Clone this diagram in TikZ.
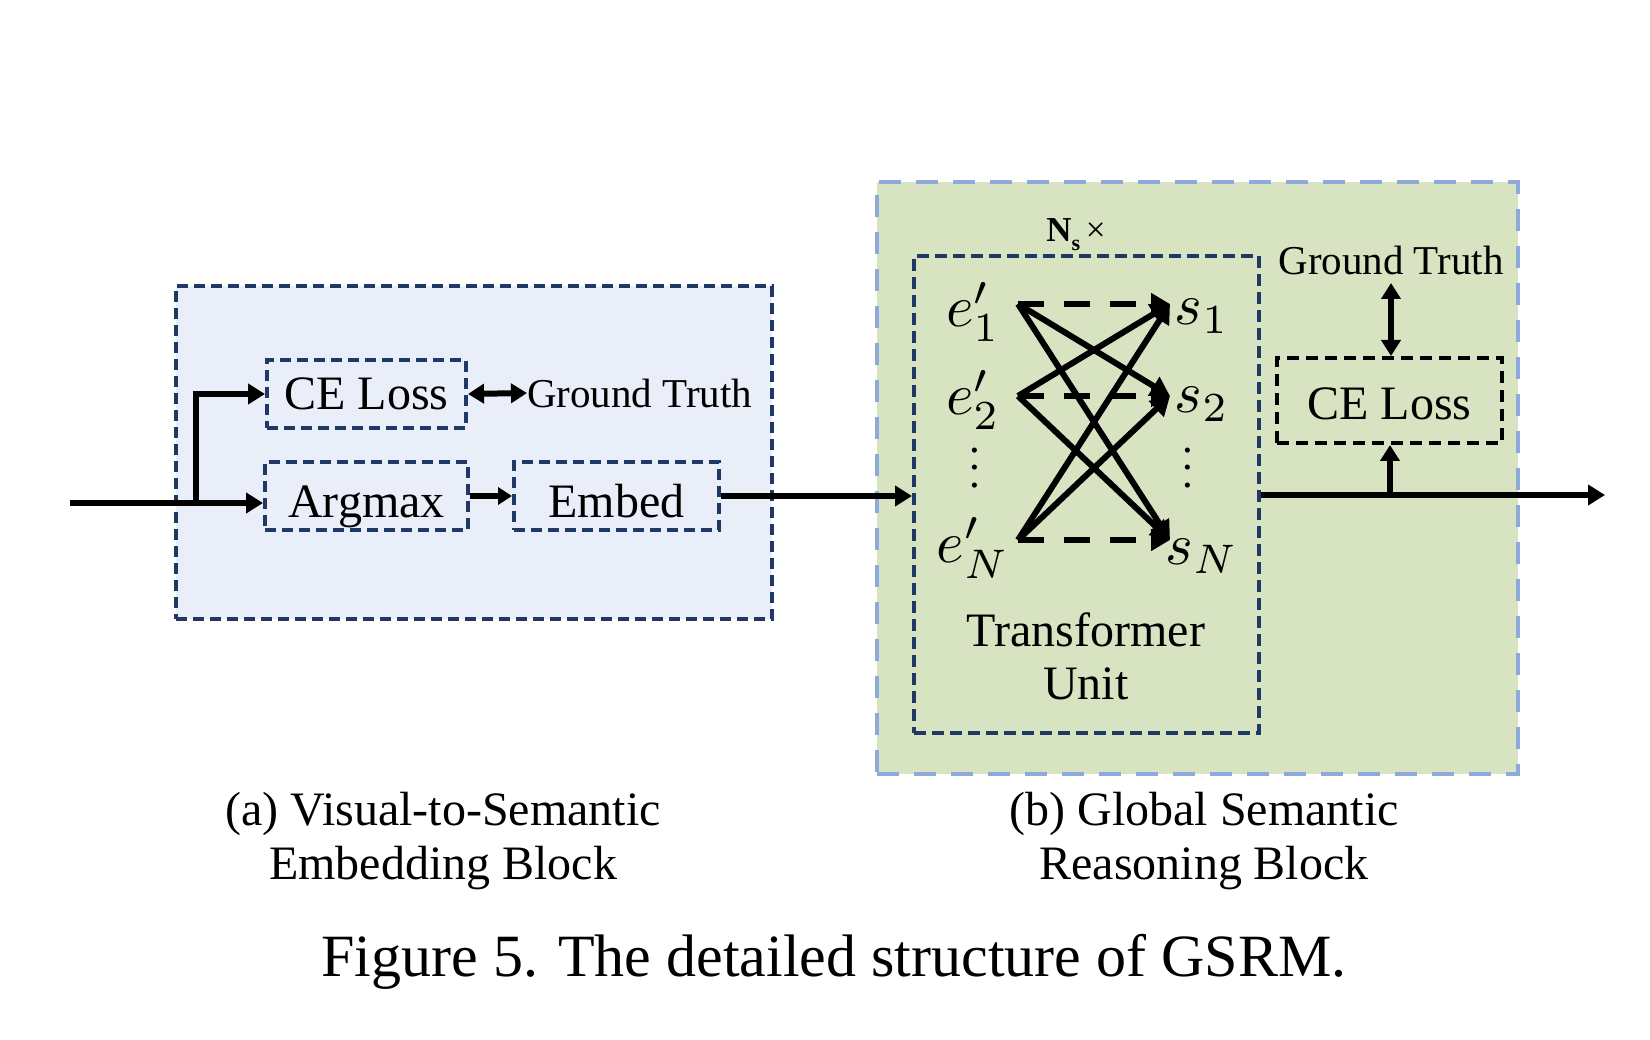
\documentclass[tikz,border=0pt]{standalone}
\usepackage{graphicx}
\usepackage{fontspec}
\setmainfont{Liberation Serif}
\usetikzlibrary{arrows.meta}
\definecolor{navy}{HTML}{1F3864}
\definecolor{lblue}{HTML}{E9EEF8}
\definecolor{lgreen}{HTML}{D7E3C1}
\definecolor{skyb}{HTML}{8EAADB}
\newcommand{\mybigmath}[1]{\scalebox{5.9}{$#1$}}
\newcommand{\mydots}{\scalebox{4.3}{$\vdots$}}
\begin{document}
\begin{tikzpicture}[x=1pt,y=-1pt,
  blockA/.style={draw=navy, fill=lblue, line width=4pt, dash pattern=on 11pt off 6pt, inner sep=0pt},
  blockB/.style={draw=skyb, fill=lgreen, line width=4pt, dash pattern=on 22pt off 15pt, inner sep=0pt},
  tubox/.style={draw=navy, line width=4pt, dash pattern=on 12pt off 6pt, inner sep=0pt},
  opbox/.style={draw=navy, line width=4pt, dash pattern=on 11pt off 6pt, inner sep=0pt, font=\fontsize{48}{56}\selectfont},
  lossbox/.style={draw=black, line width=4pt, dash pattern=on 12pt off 7pt, inner sep=0pt, font=\fontsize{48}{56}\selectfont},
  lbl/.style={inner sep=0pt, font=\fontsize{41}{48}\selectfont},
  captxt/.style={inner sep=0pt, font=\fontsize{48}{55}\selectfont, align=center},
  mth/.style={inner sep=0pt},
  arr/.style={line width=6pt, -{Triangle[length=17pt,width=20pt]}},
  darr/.style={line width=6pt, {Triangle[length=16pt,width=19pt]}-{Triangle[length=16pt,width=19pt]}},
  xarr/.style={line width=6pt, -{Triangle[length=19pt,width=21pt]}},
  xdash/.style={line width=6pt, dash pattern=on 26pt off 20pt, -{Triangle[length=19pt,width=21pt]}}
]
\useasboundingbox (0,0) rectangle (1650,1040);
\fill[white] (0,0) rectangle (1650,1040);

% outer blocks
\node[blockA, minimum width=596pt, minimum height=333pt] (blkA) at (474,452.5) {};
\node[blockB, minimum width=641pt, minimum height=592pt] (blkB) at (1197.5,478) {};

% left block content
\node[opbox, minimum width=199pt, minimum height=68pt] (ce1) at (366.5,394) {CE Loss};
\node[opbox, minimum width=203pt, minimum height=68pt, text height=42pt, text depth=0pt] (argmax) at (366.5,496) {Argmax};
\node[opbox, minimum width=205pt, minimum height=68pt, text height=42pt, text depth=0pt] (embed) at (616.5,496) {Embed};
\node[lbl, anchor=west] (gt1) at (527,393) {Ground Truth};

\coordinate (in) at (70,503);
\coordinate (br) at (196,503);
\draw[arr] (in) -- (argmax.west |- in);
\draw[arr] (br) |- (ce1.west);
\draw[darr] (ce1.east) -- (gt1.west);
\draw[line width=6pt, -{Triangle[length=14pt,width=17pt]}] (argmax.east) -- (embed.west);

% transformer unit
\node[tubox, minimum width=345pt, minimum height=477pt] (tu) at (1086.5,494.5) {};
\node[inner sep=0pt, font=\fontsize{35}{40}\selectfont] (ns) at (1076,235) {\textbf{N}\raisebox{-9pt}{\fontsize{22}{26}\selectfont\textbf{s}}\,×};
\draw[arr] (embed.east) -- (tu.west |- embed.east);

\node[mth] (e1) at (973,312) {\mybigmath{e'_1}};
\node[mth] (e2) at (973,400) {\mybigmath{e'_2}};
\node[mth] (ed) at (975,455) {\mydots};
\node[mth] (eN) at (973,548) {\mybigmath{e'_N}};
\node[mth] (s1) at (1202,316) {\mybigmath{s_1}};
\node[mth] (s2) at (1202,404) {\mybigmath{s_2}};
\node[mth] (sd) at (1188,455) {\mydots};
\node[mth] (sN) at (1202,556) {\mybigmath{s_N}};

\coordinate (p1) at (1018,304);
\coordinate (p2) at (1018,396);
\coordinate (p3) at (1018,540);
\coordinate (q1) at (1170,304);
\coordinate (q2) at (1170,396);
\coordinate (q3) at (1170,540);
\draw[xdash] (p1) -- (q1);
\draw[xdash] (p2) -- (q2);
\draw[xdash] (p3) -- (q3);
\draw[xarr] (p1) -- (q2);
\draw[xarr] (p1) -- (q3);
\draw[xarr] (p2) -- (q1);
\draw[xarr] (p2) -- (q3);
\draw[xarr] (p3) -- (q1);
\draw[xarr] (p3) -- (q2);

\node[captxt] (tulabel) at (1086,656) {Transformer\\[-2pt]Unit};

% right loss
\node[lossbox, minimum width=225pt, minimum height=85pt, text height=38pt, text depth=0pt] (ce2) at (1389.5,400.5) {CE Loss};
\node[lbl] (gt2) at (1391,260) {Ground Truth};
\coordinate (gtb) at (1391,283);
\draw[darr] (gtb) -- (ce2.north -| gtb);
\coordinate (out) at (1605,495);
\coordinate (jn) at (1390,495);
\draw[arr] (tu.east |- out) -- (out);
\draw[line width=6pt, -{Triangle[length=16pt,width=19pt]}] (jn) -- (ce2.south -| jn);

% captions
\node[captxt] (capA) at (443,841) {(a) Visual-to-Semantic\\[-1pt]Embedding Block};
\node[captxt] (capB) at (1204,841) {(b) Global Semantic\\[-1pt]Reasoning Block};
\node[inner sep=0pt, font=\fontsize{60}{70}\selectfont] (fig) at (834,962) {Figure 5. The detailed structure of GSRM.};
\end{tikzpicture}
\end{document}
